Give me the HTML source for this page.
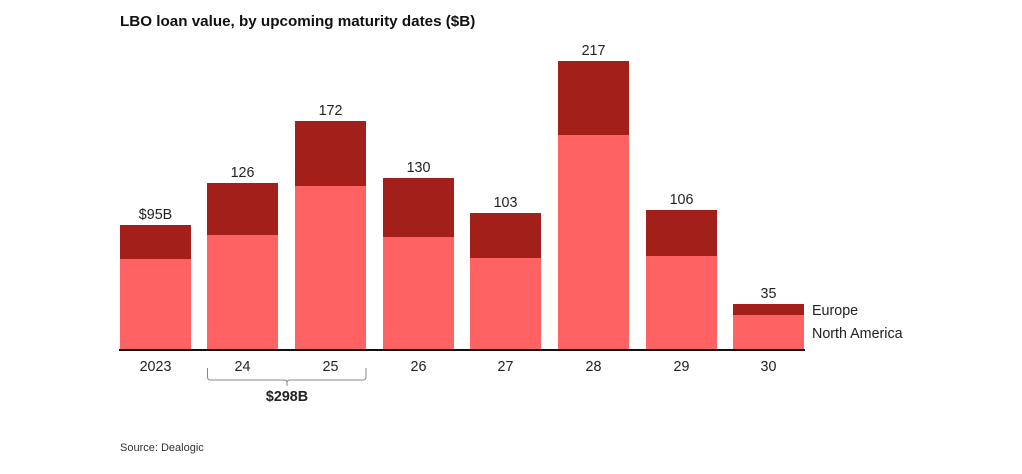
<!DOCTYPE html>
<html><head><meta charset="utf-8"><style>
body{margin:0;background:#fff}
svg{display:block;font-family:"Liberation Sans",sans-serif}
</style></head><body>
<svg width="1022" height="474" viewBox="0 0 1022 474">
<text x="120" y="26" font-size="15.2" font-weight="bold" fill="#111">LBO loan value, by upcoming maturity dates ($B)</text>
<g fill="#ff6262">
<rect x="120" y="259" width="71" height="91"/>
<rect x="207" y="235" width="71" height="115"/>
<rect x="295" y="186" width="71" height="164"/>
<rect x="383" y="237" width="71" height="113"/>
<rect x="470" y="258" width="71" height="92"/>
<rect x="558" y="135" width="71" height="215"/>
<rect x="646" y="256" width="71" height="94"/>
<rect x="733" y="315" width="71" height="35"/>
</g>
<g fill="#a31f1a">
<rect x="120" y="225" width="71" height="34"/>
<rect x="207" y="183" width="71" height="52"/>
<rect x="295" y="121" width="71" height="65"/>
<rect x="383" y="178" width="71" height="59"/>
<rect x="470" y="213" width="71" height="45"/>
<rect x="558" y="61" width="71" height="74"/>
<rect x="646" y="210" width="71" height="46"/>
<rect x="733" y="304" width="71" height="11"/>
</g>
<rect x="119" y="349" width="686" height="2" fill="#111"/>
<g font-size="14.3" fill="#222" text-anchor="middle">
<text x="155.5" y="219">$95B</text>
<text x="242.5" y="177">126</text>
<text x="330.5" y="115">172</text>
<text x="418.5" y="172">130</text>
<text x="505.5" y="207">103</text>
<text x="593.5" y="55">217</text>
<text x="681.5" y="204">106</text>
<text x="768.5" y="298">35</text>
<text x="155.5" y="371">2023</text>
<text x="242.5" y="371">24</text>
<text x="330.5" y="371">25</text>
<text x="418.5" y="371">26</text>
<text x="505.5" y="371">27</text>
<text x="593.5" y="371">28</text>
<text x="681.5" y="371">29</text>
<text x="768.5" y="371">30</text>
<text x="287" y="401" font-weight="bold">$298B</text>
</g>
<path d="M207.5 368 V377 Q207.5 380 210.5 380 H284 Q287 380 287 383 Q287 380 290 380 H363 Q366 380 366 377 V368" fill="none" stroke="#888" stroke-width="1"/>
<line x1="287" y1="383" x2="287" y2="386" stroke="#888"/>
<text x="812" y="315" font-size="14.3" fill="#222">Europe</text>
<text x="812" y="338" font-size="14.3" fill="#222">North America</text>
<text x="120" y="451" font-size="11" fill="#333">Source: Dealogic</text>
</svg>
</body></html>
